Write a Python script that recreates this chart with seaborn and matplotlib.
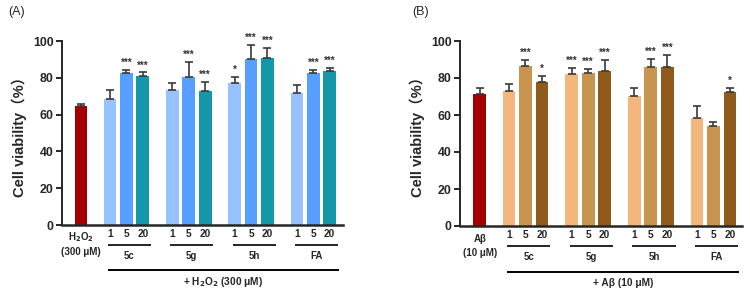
import matplotlib
matplotlib.use("Agg")
import matplotlib.pyplot as plt
import matplotlib.transforms as mtrans
import numpy as np
import pandas as pd
import seaborn as sns

# ---------------- data ----------------
groups = ["5c", "5g", "5h", "FA"]
doses = ["1", "5", "20"]

# Panel A (H2O2 300 uM)
ctrl_A = 64.7
ctrl_A_err = 1.3
vals_A = [68.4, 82.5, 81.1,
          73.5, 80.7, 72.9,
          77.1, 90.0, 90.7,
          72.0, 82.4, 83.6]
errs_A = [4.9, 1.9, 1.8,
          3.8, 7.8, 4.6,
          3.3, 7.6, 5.3,
          4.2, 2.0, 1.9]
sig_A = ["", "***", "***",
         "", "***", "***",
         "*", "***", "***",
         "", "***", "***"]

# Panel B (Abeta 10 uM)
ctrl_B = 71.2
ctrl_B_err = 3.6
vals_B = [72.8, 86.6, 78.1,
          81.9, 82.8, 83.9,
          70.3, 86.2, 85.7,
          58.5, 54.3, 72.6]
errs_B = [3.8, 3.3, 3.1,
          3.6, 2.3, 5.8,
          4.5, 4.0, 6.9,
          6.4, 2.0, 1.9]
sig_B = ["", "***", "*",
         "***", "***", "***",
         "", "***", "***",
         "", "", "*"]

ctrl_color = "#A50000"
colors_A = {"ctrl": ctrl_color, "1": "#96C3FF", "5": "#569EFF", "20": "#1497A8"}
colors_B = {"ctrl": ctrl_color, "1": "#F3B67C", "5": "#C8944F", "20": "#8F5A1C"}

# ---------------- style ----------------
sns.set_style("ticks")
plt.rcParams["font.family"] = ["Liberation Sans", "Noto Sans CJK SC", "DejaVu Sans"]
plt.rcParams["font.weight"] = "bold"

fig = plt.figure(figsize=(7.5, 2.96), dpi=100)
axA = fig.add_axes([62 / 750, 1 - 225 / 296, 281 / 750, 184 / 296])
axB = fig.add_axes([460 / 750, 1 - 226 / 296, 282 / 750, 185 / 296])

group_starts = [1.77, 5.57, 9.37, 13.17]


def build_positions():
    pos = [0.0]
    for s in group_starts:
        for j in range(3):
            pos.append(round(s + j, 2))
    return pos


def draw_panel(ax, ctrl, ctrl_err, vals, errs, sigs, palette, ctrl_lines, big_label, xlim):
    pos = build_positions()
    shades = ["ctrl"] + doses * len(groups)
    df = pd.DataFrame({
        "pos": pos,
        "value": [ctrl] + vals,
        "shade": shades,
    })
    sns.barplot(data=df, x="pos", y="value", hue="shade", palette=palette,
                native_scale=True, dodge=False, errorbar=None, width=0.78,
                legend=False, ax=ax, saturation=1, linewidth=0)
    allerr = np.array([ctrl_err] + errs)
    allval = np.array([ctrl] + vals)
    ax.errorbar(pos, allval, yerr=[np.zeros_like(allerr), allerr], fmt="none",
                ecolor="#3a3a3a", elinewidth=1.2, capsize=2.6, capthick=1.2,
                clip_on=False, zorder=3)
    for p, v, e, s in zip(pos[1:], vals, errs, sigs):
        if s:
            ax.annotate(s, (p, v + e), xytext=(0, 1.5), textcoords="offset points",
                        ha="center", va="bottom", fontsize=7, fontweight="bold",
                        color="#333333")

    ax.set_ylim(0, 100)
    ax.set_yticks([0, 20, 40, 60, 80, 100])
    ax.set_xlim(*xlim)
    ax.set_xticks(pos[1:])
    ax.set_xticklabels(doses * len(groups), fontsize=7.3, fontweight="bold")
    ax.tick_params(axis="x", length=0, pad=3)
    ax.tick_params(axis="y", length=4, width=1.4, labelsize=8.9, pad=2)
    for lab in ax.get_yticklabels():
        lab.set_fontweight("bold")
    ax.set_xlabel("")
    ax.set_ylabel("Cell viability（%）", fontsize=10.5, fontweight="bold", labelpad=4)
    sns.despine(ax=ax)
    ax.spines["left"].set_linewidth(1.4)
    ax.spines["bottom"].set_linewidth(1.8)

    tr = mtrans.blended_transform_factory(ax.transData, ax.transAxes)
    # control label
    ax.text(0, -0.068, ctrl_lines[0], transform=tr, ha="center", va="center",
            fontsize=7, fontweight="bold")
    ax.text(0, -0.147, ctrl_lines[1], transform=tr, ha="center", va="center",
            fontsize=7, fontweight="bold")
    # group lines & names
    for gi, g in enumerate(groups):
        p0 = pos[1 + gi * 3]
        p2 = pos[3 + gi * 3]
        ax.plot([p0 - 0.12, p2 + 0.5], [-0.109, -0.109], transform=tr, color="black",
                lw=1.2, clip_on=False, solid_capstyle="butt")
        ax.text((p0 - 0.12 + p2 + 0.5) / 2, -0.168, g, transform=tr, ha="center",
                va="center", fontsize=7, fontweight="bold")
    x0 = pos[1] - 0.12
    x1 = pos[-1] + 0.55
    ax.plot([x0, x1], [-0.247, -0.247], transform=tr, color="black", lw=1.4,
            clip_on=False, solid_capstyle="butt")
    ax.text((x0 + x1) / 2, -0.31, big_label, transform=tr, ha="center", va="center",
            fontsize=7.3, fontweight="bold")


draw_panel(axA, ctrl_A, ctrl_A_err, vals_A, errs_A, sig_A, colors_A,
           ["H$\\mathbf{_2}$O$\\mathbf{_2}$", "(300 μM)"],
           "+ H$\\mathbf{_2}$O$\\mathbf{_2}$ (300 μM)", (-1.16, 15.98))
draw_panel(axB, ctrl_B, ctrl_B_err, vals_B, errs_B, sig_B, colors_B,
           ["Aβ", "(10 μM)"], "+ Aβ (10 μM)", (-1.2, 15.9))

fig.text(8 / 750, 1 - 12 / 296, "(A)", fontsize=9, fontweight="normal", va="center", ha="left")
fig.text(412 / 750, 1 - 12 / 296, "(B)", fontsize=9, fontweight="normal", va="center", ha="left")

fig.savefig("out.png", dpi=100)
